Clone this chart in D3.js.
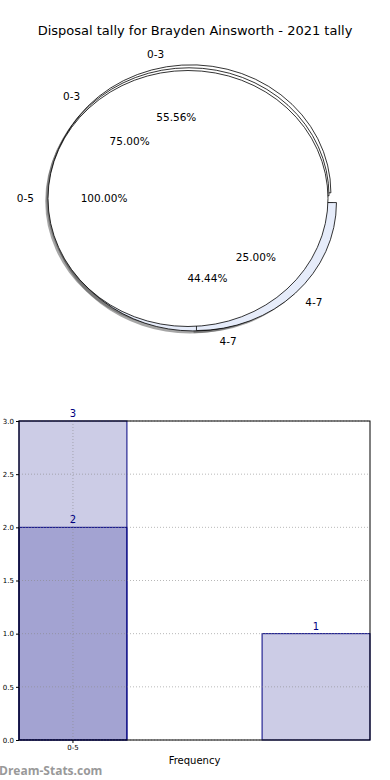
<!DOCTYPE html>
<html>
<head>
<meta charset="utf-8">
<script src="https://cdn.jsdelivr.net/npm/d3@7"></script>
<style>
  body { margin: 0; background: #fff; }
  text { font-family: "DejaVu Sans", sans-serif; }
</style>
</head>
<body>
<svg id="chart"></svg>
<script>
var title = 'Disposal tally for Brayden Ainsworth - 2021 tally';

// three overlaid pies (matplotlib style, counter-clockwise from 3 o'clock)
var pieALabels = ['0-3', '4-7'];
var pieAValues = [5, 4];
var pieAExplode = [0.045, 0.035];
var pieBLabels = ['0-3', '4-7'];
var pieBValues = [3, 1];
var pieBExplode = [0.03, 0.045];
var pieCLabels = ['0-5'];
var pieCValues = [2];
var pieCExplode = [0];
var pieColors = ['#ffffff', '#e6ecfa'];

// bar chart
var barCategories = ['0-5', '4-7'];
var lightValues = [3, 1];
var darkCategories = ['0-5'];
var darkValues = [2];
var yTicks = [0, 0.5, 1, 1.5, 2, 2.5, 3];

var width = 390;
var height = 780;
var svg = d3.select('#chart')
    .attr('width', width)
    .attr('height', height);

svg.append('text')
    .attr('x', 195)
    .attr('y', 35)
    .attr('text-anchor', 'middle')
    .attr('font-size', 13)
    .text(title);

// ---- pies ----
var rx = 140;
var ry = 128;
var pieDefs = [
    { labels: pieALabels, values: pieAValues, explode: pieAExplode, cx: 192, cy: 198.5 },
    { labels: pieBLabels, values: pieBValues, explode: pieBExplode, cx: 192, cy: 198.5 },
    { labels: pieCLabels, values: pieCValues, explode: pieCExplode, cx: 188, cy: 198.5 }
];
var pie = d3.pie().sort(null)
    .startAngle(Math.PI / 2)
    .endAngle(Math.PI / 2 - 2 * Math.PI);
var arc = d3.arc().innerRadius(0).outerRadius(rx);

pieDefs.forEach(function (p) {
    p.arcs = pie(p.values).map(function (d, i) {
        var mid = (d.startAngle + d.endAngle) / 2;
        var ux = Math.sin(mid), uy = -Math.cos(mid);
        var e = p.explode[i];
        return {
            d: d, i: i, label: p.labels[i], ux: ux, uy: uy,
            ox: p.cx + ux * e * rx,
            oy: p.cy + uy * e * ry,
            pct: d.value / d3.sum(p.values) * 100
        };
    });
});

var pieLayer = svg.append('g');
// shadows all go beneath all wedges
pieDefs.forEach(function (p) {
    pieLayer.selectAll(null)
        .data(p.arcs)
        .enter().append('path')
        .attr('transform', a => `translate(${a.ox - 0.02 * rx},${a.oy + 0.02 * ry}) scale(1,${ry / rx})`)
        .attr('d', a => arc(a.d))
        .attr('fill', '#4d4d4d')
        .attr('fill-opacity', 0.5);
});
pieDefs.forEach(function (p) {
    pieLayer.selectAll(null)
        .data(p.arcs)
        .enter().append('path')
        .attr('transform', a => `translate(${a.ox},${a.oy}) scale(1,${ry / rx})`)
        .attr('d', a => arc(a.d))
        .attr('fill', a => pieColors[a.i % 2])
        .attr('stroke', '#000')
        .attr('stroke-width', 0.8)
        .attr('vector-effect', 'non-scaling-stroke');
});
pieDefs.forEach(function (p) {
    pieLayer.selectAll(null)
        .data(p.arcs)
        .enter().append('text')
        .attr('x', a => a.ox + a.ux * 1.1 * rx)
        .attr('y', a => a.oy + a.uy * 1.1 * ry)
        .attr('dy', '0.35em')
        .attr('text-anchor', a => a.ux > 0.001 ? 'start' : (a.ux < -0.001 ? 'end' : 'middle'))
        .attr('font-size', 10.5)
        .text(a => a.label);
    pieLayer.selectAll(null)
        .data(p.arcs)
        .enter().append('text')
        .attr('x', a => a.ox + a.ux * 0.6 * rx)
        .attr('y', a => a.oy + a.uy * 0.6 * ry)
        .attr('dy', '0.35em')
        .attr('text-anchor', 'middle')
        .attr('font-size', 10.5)
        .text(a => a.pct.toFixed(2) + '%');
});

// ---- bars ----
var plotLeft = 19, plotRight = 370, plotTop = 421, plotBottom = 740;
var xScale = d3.scaleBand()
    .domain(barCategories)
    .range([plotLeft, plotRight])
    .paddingInner(0.556)
    .paddingOuter(0);
var yScale = d3.scaleLinear()
    .domain([0, 3])
    .range([plotBottom, plotTop]);

var navy = '#000080';
var lightBars = barCategories.map((c, i) => ({ cat: c, value: lightValues[i] }));
var darkBars = darkCategories.map((c, i) => ({ cat: c, value: darkValues[i] }));
var barLayer = svg.append('g');
barLayer.selectAll('rect')
    .data(lightBars.concat(darkBars))
    .enter().append('rect')
    .attr('x', d => xScale(d.cat))
    .attr('y', d => yScale(d.value))
    .attr('width', xScale.bandwidth())
    .attr('height', d => yScale(0) - yScale(d.value))
    .attr('fill', navy)
    .attr('fill-opacity', 0.2)
    .attr('stroke', navy)
    .attr('stroke-width', 1);

// grid
var grid = svg.append('g')
    .attr('stroke', '#888')
    .attr('stroke-opacity', 0.6)
    .attr('stroke-dasharray', '1,2');
grid.selectAll(null)
    .data(yTicks)
    .enter().append('line')
    .attr('x1', plotLeft).attr('x2', plotRight)
    .attr('y1', d => yScale(d)).attr('y2', d => yScale(d));
grid.append('line')
    .attr('x1', xScale('0-5') + xScale.bandwidth() / 2)
    .attr('x2', xScale('0-5') + xScale.bandwidth() / 2)
    .attr('y1', plotTop).attr('y2', plotBottom);

// value labels
svg.selectAll('text.val')
    .data(lightBars.concat(darkBars))
    .enter().append('text')
    .attr('class', 'val')
    .attr('x', d => xScale(d.cat) + xScale.bandwidth() / 2)
    .attr('y', d => yScale(d.value) - 4)
    .attr('text-anchor', 'middle')
    .attr('font-size', 10)
    .attr('fill', navy)
    .text(d => d.value);

// axes
var yAxis = d3.axisLeft(yScale)
    .tickValues(yTicks)
    .tickFormat(d3.format('.1f'))
    .tickSize(3)
    .tickPadding(2);
var gy = svg.append('g')
    .attr('transform', `translate(${plotLeft},0)`)
    .call(yAxis);
gy.select('.domain').remove();
gy.selectAll('text').attr('font-size', 7).attr('font-family', '"DejaVu Sans", sans-serif');

var xAxis = d3.axisBottom(xScale)
    .tickValues(['0-5'])
    .tickSize(3)
    .tickPadding(2);
var gx = svg.append('g')
    .attr('transform', `translate(0,${plotBottom})`)
    .call(xAxis);
gx.select('.domain').remove();
gx.selectAll('text').attr('font-size', 7).attr('font-family', '"DejaVu Sans", sans-serif');

svg.append('rect')
    .attr('x', plotLeft).attr('y', plotTop)
    .attr('width', plotRight - plotLeft).attr('height', plotBottom - plotTop)
    .attr('fill', 'none')
    .attr('stroke', '#000')
    .attr('stroke-width', 1);

svg.append('text')
    .attr('x', (plotLeft + plotRight) / 2)
    .attr('y', 764)
    .attr('text-anchor', 'middle')
    .attr('font-size', 10)
    .text('Frequency');

svg.append('text')
    .attr('x', -1)
    .attr('y', 775)
    .attr('font-size', 12)
    .attr('font-weight', 'bold')
    .attr('font-family', '"Open Sans", sans-serif')
    .style('font-family', '"Open Sans", sans-serif')
    .attr('fill', '#999')
    .text('Dream-Stats.com');
</script>
</body>
</html>
